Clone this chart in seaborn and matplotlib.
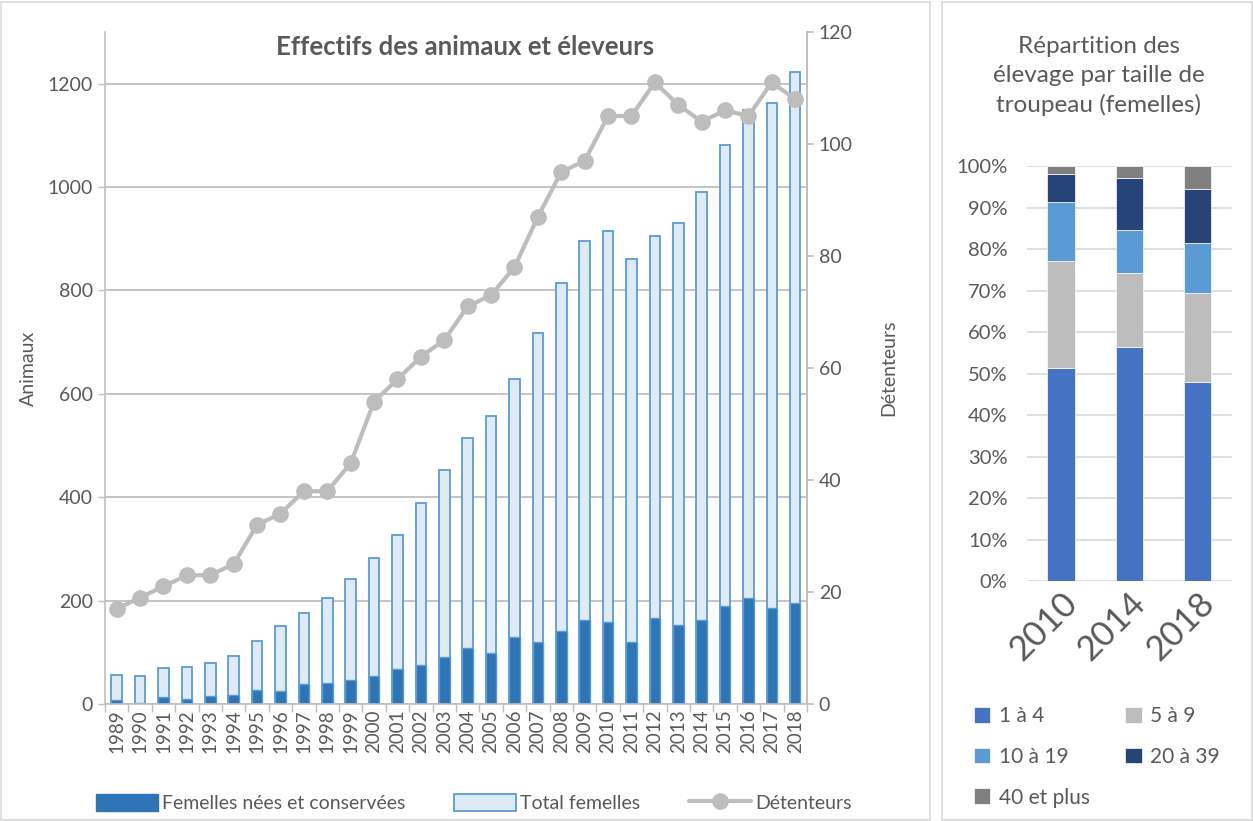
import numpy as np
import pandas as pd
import matplotlib
matplotlib.use("Agg")
import matplotlib.pyplot as plt
import seaborn as sns
from matplotlib.patches import Rectangle, Patch
from matplotlib.lines import Line2D

# donnees
annees = [str(a) for a in range(1989, 2019)]
total_femelles = [57, 55, 70, 72, 80, 92, 122, 150, 177, 205, 242, 283, 327, 388, 452,
                  515, 558, 628, 718, 815, 895, 915, 860, 905, 930, 990, 1082, 1150, 1162, 1222]
femelles_nees = [7, 2, 13, 10, 15, 17, 28, 26, 39, 41, 46, 55, 67, 76, 90,
                 109, 99, 129, 120, 141, 163, 158, 119, 166, 152, 163, 190, 205, 185, 196]
detenteurs = [17, 19, 21, 23, 23, 25, 32, 34, 38, 38, 43, 54, 58, 62, 65,
              71, 73, 78, 87, 95, 97, 105, 105, 111, 107, 104, 106, 105, 111, 108]

annees_rep = ["2010", "2014", "2018"]
classes = ["1 à 4", "5 à 9", "10 à 19", "20 à 39", "40 et plus"]
part_1_4 = [51.3, 56.5, 48.0]
part_5_9 = [25.8, 17.6, 21.4]
part_10_19 = [14.3, 10.6, 12.1]
part_20_39 = [6.7, 12.4, 13.0]
part_40 = [1.9, 2.9, 5.5]

couleurs_classes = ["#4472C4", "#BDBDBD", "#5B9BD5", "#264478", "#808080"]
gris_txt = "#595959"

sns.set_theme(style="white")
plt.rcParams['font.family'] = ['Lato', 'DejaVu Sans']
plt.rcParams['text.color'] = gris_txt
plt.rcParams['axes.labelcolor'] = gris_txt
plt.rcParams['xtick.color'] = gris_txt
plt.rcParams['ytick.color'] = gris_txt

fig = plt.figure(figsize=(12.53, 8.21), dpi=100)

# cadres des deux graphiques
fig.patches.append(Rectangle((0.001, 0.001), 0.741, 0.997, transform=fig.transFigure,
                             fill=False, edgecolor="#D9D9D9", linewidth=1.2))
fig.patches.append(Rectangle((0.752, 0.001), 0.247, 0.997, transform=fig.transFigure,
                             fill=False, edgecolor="#D9D9D9", linewidth=1.2))

# ---- graphique de gauche ----
df = pd.DataFrame({"annee": annees, "total": total_femelles,
                   "nees": femelles_nees, "det": detenteurs})

ax = fig.add_axes([0.0838, 0.1425, 0.5602, 0.8185])
sns.barplot(data=df, x="annee", y="total", color="#DEEBF7", edgecolor="#5B9BD5",
            linewidth=1.3, width=0.45, saturation=1, ax=ax)
sns.barplot(data=df, x="annee", y="nees", color="#2E75B6", edgecolor="#5B9BD5",
            linewidth=1.0, width=0.45, saturation=1, ax=ax)
ax.set_ylim(0, 1300)
ax.set_xlim(-0.5, len(annees) - 0.5)
ax.set_yticks(range(0, 1201, 200))
ax.yaxis.grid(True, color="#BFBFBF", linewidth=1.3)
ax.set_axisbelow(True)
ax.set_xlabel("")
ax.set_ylabel("Animaux", fontsize=14, labelpad=8)
ax.tick_params(axis="y", labelsize=14, length=5, color="#BFBFBF", width=1, left=True)
ax.tick_params(axis="x", labelsize=13.5, rotation=90, length=0, pad=4)
ax.set_xticks(np.arange(-0.5, len(annees), 1), minor=True)
ax.tick_params(axis="x", which="minor", length=6, color="#BFBFBF", bottom=True)
ax.spines["top"].set_visible(False)
for s in ["left", "bottom", "right"]:
    ax.spines[s].set_color("#BFBFBF")
    ax.spines[s].set_linewidth(1.2)

ax2 = ax.twinx()
sns.lineplot(data=df, x="annee", y="det", color="#BDBDBD", linewidth=3, marker="o",
             markersize=12, markeredgewidth=0, ax=ax2)
ax2.set_ylim(0, 120)
ax2.set_yticks(range(0, 121, 20))
ax2.set_ylabel("Détenteurs", fontsize=14, rotation=90, labelpad=20)
ax2.tick_params(axis="y", labelsize=14, length=5, color="#BFBFBF", right=True)
ax2.set_xlim(-0.5, len(annees) - 0.5)
for s in ["top", "left", "bottom"]:
    ax2.spines[s].set_visible(False)
ax2.spines["right"].set_color("#BFBFBF")
ax2.spines["right"].set_linewidth(1.2)

fig.text(0.371, 0.943, "Effectifs des animaux et éleveurs", fontsize=18.5,
         fontweight="bold", color=gris_txt, ha="center", va="center")

poignees = [Patch(facecolor="#2E75B6", edgecolor="#2E75B6"),
            Patch(facecolor="#DEEBF7", edgecolor="#5B9BD5", linewidth=1.3),
            Line2D([], [], color="#BDBDBD", linewidth=3, marker="o", markersize=11)]
fig.legend(poignees, ["Femelles nées et conservées", "Total femelles", "Détenteurs"],
           loc="center", bbox_to_anchor=(0.378, 0.022), ncol=3, frameon=False,
           fontsize=14, handlelength=3.2, handletextpad=0.2, columnspacing=2.5,
           handleheight=1.0)

# ---- graphique de droite ----
axr = fig.add_axes([0.8196, 0.2923, 0.1636, 0.5055])
parts = [part_1_4, part_5_9, part_10_19, part_20_39, part_40]
bas = np.zeros(len(annees_rep))
for nom, vals, coul in zip(classes, parts, couleurs_classes):
    axr.bar(annees_rep, vals, bottom=bas, width=0.4, color=coul, edgecolor="white",
            linewidth=0.5, label=nom, zorder=3)
    bas = bas + np.array(vals)
axr.set_ylim(0, 100)
axr.set_xlim(-0.5, 2.5)
axr.set_yticks(range(0, 101, 10))
axr.set_yticklabels([f"{v}%" for v in range(0, 101, 10)])
axr.yaxis.grid(True, color="#D9D9D9", linewidth=1.2, zorder=0)
axr.tick_params(axis="y", labelsize=14.5, length=0, pad=14)
axr.tick_params(axis="x", labelsize=25, length=0, pad=4)
plt.setp(axr.get_xticklabels(), rotation=45, ha="right", rotation_mode="anchor")
for s in axr.spines.values():
    s.set_visible(False)

fig.text(0.877, 0.907, "Répartition des\nélevage par taille de\ntroupeau (femelles)",
         fontsize=17.5, color=gris_txt, ha="center", va="center", linespacing=1.45)

hr, lr = axr.get_legend_handles_labels()
ordre = [0, 2, 4, 1, 3]
fig.legend([hr[i] for i in ordre], [lr[i] for i in ordre], loc="upper left",
           bbox_to_anchor=(0.762, 0.163), ncol=2, frameon=False, fontsize=15,
           handlelength=0.8, handleheight=0.8, handletextpad=0.4, columnspacing=1.7,
           labelspacing=1.0)

fig.savefig("out.png", dpi=100)
